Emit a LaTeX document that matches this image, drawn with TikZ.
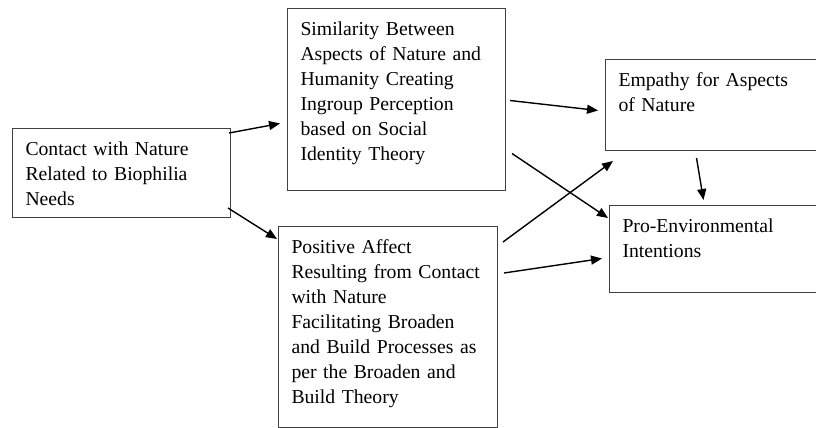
\documentclass[tikz,border=0pt]{standalone}
\usepackage{fontspec}
\setmainfont{Liberation Serif}
\usepackage{tikz}
\usetikzlibrary{positioning,calc,arrows.meta}
\tikzset{
    conceptbox/.style={rectangle, draw=black!75, line width=1pt, anchor=north west, align=left, inner xsep=13pt, inner ysep=14pt, text height=13pt, font=\fontsize{19.7}{25}\selectfont, execute at begin node={\hyphenpenalty=10000\relax}},
    linkarrow/.style={draw=black, line width=1.4pt, -{Triangle[length=11pt,width=9pt]}}
}
\begin{document}
\begin{tikzpicture}[x=1pt, y=-1pt]
        \useasboundingbox (0,0) rectangle (816,428);

        % --- 1. CAC KHOI ---
        \node[conceptbox, text width=192pt, text depth=48pt] (contact) at (12,128)
            {Contact with Nature\\Related to Biophilia\\Needs};
        \node[conceptbox, text width=192pt, text depth=141pt] (similarity) at (287,8)
            {Similarity Between\\Aspects of Nature and\\Humanity Creating\\Ingroup Perception\\based on Social\\Identity Theory};
        \node[conceptbox, text width=193pt, text depth=160pt] (positive) at (278,226)
            {Positive Affect\\Resulting from Contact\\with Nature\\Facilitating Broaden\\and Build Processes as\\per the Broaden and\\Build Theory};
        \node[conceptbox, text width=187pt, text depth=50pt] (empathy) at (605,59)
            {Empathy for Aspects\\of Nature};
        \node[conceptbox, text width=183pt, text depth=46pt] (proenv) at (609,205)
            {Pro-Environmental\\Intentions};

        % --- 2. CAC MUI TEN ---
        \draw[linkarrow] ($(contact.north east)+(-2,5)$) -- ($(similarity.west)+(-7,24)$);
        \draw[linkarrow] ($(contact.south east)+(-3,-10)$) -- ($(positive.north west)+(-1,13)$);
        \draw[linkarrow] ($(similarity.east)+(4,1)$) -- ($(empathy.west)+(-7,5.5)$);
        \draw[linkarrow] ($(similarity.east)+(6,54)$) -- ($(proenv.north west)+(-1,13)$);
        \draw[linkarrow] ($(positive.north east)+(5,16)$) -- ($(empathy.south west)+(8,10)$);
        \draw[linkarrow] ($(positive.north east)+(6,47)$) -- ($(proenv.west)+(-7,9.5)$);
        \draw[linkarrow] ($(empathy.south)+(-15.5,7)$) -- ($(proenv.north)+(-10.5,-5)$);

    \end{tikzpicture}
\end{document}
